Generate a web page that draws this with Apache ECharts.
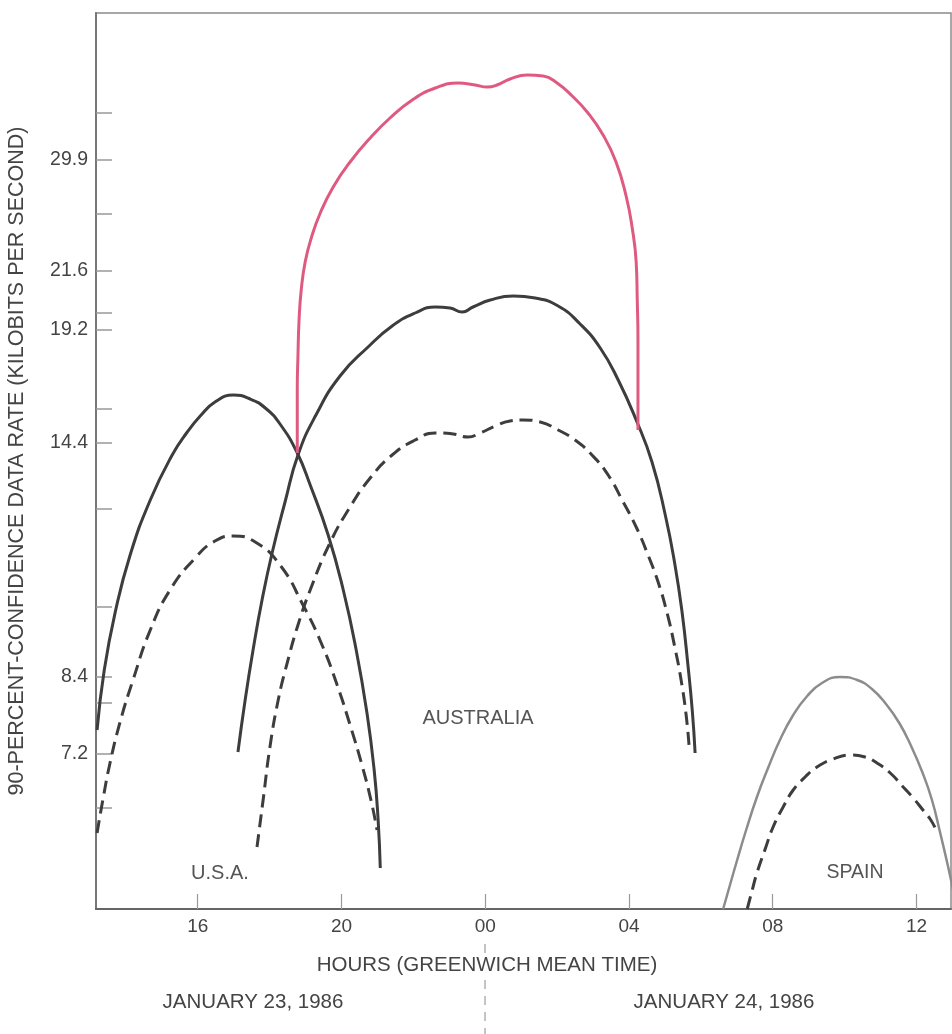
<!DOCTYPE html>
<html><head><meta charset="utf-8">
<script src="https://cdn.jsdelivr.net/npm/echarts@6/dist/echarts.min.js"></script>
<style>html,body{margin:0;padding:0;background:#fff}#c{width:952px;height:1034px}</style>
</head><body><div id="c"></div>
<script>
// X: hours GMT counted continuously from 00:00 January 23, 1986 (24 = 00 on Jan 24)
// Y: position on the chart's (non-linear) data-rate scale, in scale units
const usaSolidHours = [13.20, 13.40, 13.70, 14.12, 14.68, 15.29, 15.71, 16.07, 16.48, 16.99, 17.46, 17.88, 18.29, 18.77, 19.13, 19.63, 20.05, 20.41, 20.71, 20.91, 21.02, 21.08];
const usaSolidRate  = [179, 239, 296, 354, 409, 454, 477, 493, 507, 514, 510, 501, 485, 456, 424, 374, 319, 259, 196, 139, 89, 41];
const usaDashHours  = [13.20, 13.37, 13.56, 13.84, 14.20, 14.68, 15.23, 15.93, 16.48, 16.99, 17.60, 18.29, 18.93, 19.46, 19.88, 20.24, 20.57, 20.82, 20.99];
const usaDashRate   = [76, 111, 146, 187, 229, 279, 319, 351, 368, 373, 367, 344, 304, 264, 224, 184, 144, 109, 79];
const ausSolidHours = [17.12, 17.32, 17.54, 17.79, 18.07, 18.43, 18.79, 19.29, 19.96, 20.74, 21.41, 22.05, 22.61, 23.02, 23.36, 23.66, 24.14, 24.78, 25.39, 26.03, 26.64, 27.20, 27.70, 28.20, 28.64, 29.01, 29.28, 29.48, 29.64, 29.76, 29.84];
const ausSolidRate  = [157, 209, 259, 309, 356, 407, 454, 494, 533, 562, 583, 596, 602, 601, 597, 602, 609, 613, 611, 603, 585, 561, 529, 489, 447, 394, 344, 296, 244, 199, 156];
const ausDashHours  = [17.65, 17.82, 18.01, 18.24, 18.49, 18.79, 19.13, 19.68, 20.24, 20.80, 21.41, 22.05, 22.61, 23.11, 23.52, 23.86, 24.28, 24.69, 25.05, 25.53, 26.03, 26.50, 26.97, 27.42, 27.81, 28.20, 28.53, 28.81, 29.06, 29.28, 29.45, 29.59, 29.67];
const ausDashRate   = [62, 109, 162, 209, 246, 284, 319, 366, 402, 431, 454, 469, 476, 475, 472, 476, 483, 488, 489, 487, 479, 469, 454, 434, 409, 382, 354, 327, 296, 261, 229, 194, 164];
const ausBestHours  = [18.77, 18.77, 18.77, 18.79, 18.82, 18.88, 18.99, 19.16, 19.41, 19.77, 20.24, 20.80, 21.35, 21.97, 22.61, 23.25, 23.72, 24.05, 24.33, 24.69, 25.17, 25.61, 26.00, 26.42, 26.86, 27.28, 27.64, 27.92, 28.09, 28.20, 28.23, 28.25, 28.25, 28.25];
const ausBestRate   = [456, 489, 519, 554, 589, 619, 647, 671, 696, 722, 747, 771, 791, 809, 821, 826, 824, 822, 824, 830, 834, 833, 826, 813, 796, 774, 747, 713, 681, 647, 609, 569, 519, 479];
const spainSolidHours = [30.62, 30.81, 31.01, 31.26, 31.56, 31.87, 32.20, 32.57, 32.96, 33.37, 33.87, 34.35, 34.76, 35.15, 35.52, 35.85, 36.16, 36.43, 36.66, 36.85, 36.99, 37.13];
const spainSolidRate  = [0, 24, 49, 79, 112, 141, 169, 194, 213, 226, 232, 229, 220, 205, 186, 163, 137, 109, 76, 47, 24, 0];
const spainDashHours  = [31.29, 31.43, 31.56, 31.79, 32.01, 32.29, 32.57, 32.90, 33.23, 33.68, 34.15, 34.57, 34.90, 35.27, 35.63, 35.91, 36.18, 36.38, 36.52];
const spainDashRate   = [0, 19, 36, 60, 82, 102, 119, 132, 142, 150, 154, 152, 146, 136, 122, 111, 99, 90, 81];

const xTickHours = [16, 20, 24, 28, 32, 36];
const yTickAt    = [796, 749, 695, 638, 596, 579, 500, 466, 400, 302, 232, 206, 155, 101];
const yLabelAt   = [749, 638, 579, 466, 232, 155];
const yLabelText = ['29.9', '21.6', '19.2', '14.4', '8.4', '7.2'];

const FONT = '"Liberation Sans", Arial, Helvetica, sans-serif';
const zip = (a, b) => a.map((v, i) => [v, b[i]]);
const dark = '#3d3d3d';

function line(name, hx, ry, color, width, dashed) {
  return {
    name, type: 'line', data: zip(hx, ry), smooth: 0.5, showSymbol: false, symbol: 'none',
    clip: true, silent: true,
    lineStyle: { color, width, type: dashed ? [13, 7] : 'solid', cap: 'butt' }
  };
}

const chart = echarts.init(document.getElementById('c'), null, { renderer: 'canvas' });
chart.setOption({
  animation: false,
  backgroundColor: '#fff',
  grid: { left: 96, right: 1, top: 13, bottom: 125, outerBoundsMode: 'none', containLabel: false, show: true, borderColor: '#8a8a8a', borderWidth: 1.5, backgroundColor: 'transparent' },
  xAxis: {
    type: 'value', min: 13.17, max: 36.96,
    axisLine: { show: true, onZero: false, lineStyle: { color: '#666', width: 2 } },
    axisTick: { show: true, inside: true, length: 15, customValues: xTickHours, lineStyle: { color: '#999', width: 1.2 } },
    axisLabel: { customValues: xTickHours, formatter: v => String(v % 24).padStart(2, '0'), margin: 8, fontSize: 19, color: '#444', fontFamily: FONT },
    splitLine: { show: false }
  },
  yAxis: {
    type: 'value', min: 0, max: 896,
    axisLine: { show: true, onZero: false, lineStyle: { color: '#777', width: 2 } },
    axisTick: { show: true, inside: true, length: 16, customValues: yTickAt, lineStyle: { color: '#999', width: 1.5 } },
    axisLabel: { customValues: yLabelAt, formatter: v => yLabelText[yLabelAt.indexOf(v)] || '', margin: 8, fontSize: 19.5, color: '#444', fontFamily: FONT },
    splitLine: { show: false },
    name: '90-PERCENT-CONFIDENCE DATA RATE (KILOBITS PER SECOND)', nameLocation: 'middle', nameGap: 68,
    nameTextStyle: { fontSize: 21.5, color: '#444', fontFamily: FONT }
  },
  series: [
    line('USA', usaSolidHours, usaSolidRate, dark, 3, false),
    line('USA 90%', usaDashHours, usaDashRate, dark, 3, true),
    line('Australia', ausSolidHours, ausSolidRate, dark, 3, false),
    line('Australia 90%', ausDashHours, ausDashRate, dark, 3, true),
    line('Spain', spainSolidHours, spainSolidRate, '#8c8c8c', 2.5, false),
    line('Spain 90%', spainDashHours, spainDashRate, dark, 3, true),
    line('Australia best', ausBestHours, ausBestRate, '#df5a80', 3, false)
  ],
  graphic: [
    { type: 'text', style: { text: 'U.S.A.', x: 220, y: 873, align: 'center', verticalAlign: 'middle', fill: '#555', font: '20px ' + FONT } },
    { type: 'text', style: { text: 'AUSTRALIA', x: 478, y: 718, align: 'center', verticalAlign: 'middle', fill: '#555', font: '20px ' + FONT } },
    { type: 'text', style: { text: 'SPAIN', x: 855, y: 873, align: 'center', verticalAlign: 'middle', fill: '#555', font: '19.5px ' + FONT } },
    { type: 'text', style: { text: 'HOURS (GREENWICH MEAN TIME)', x: 487, y: 965, align: 'center', verticalAlign: 'middle', fill: '#444', font: '20.5px ' + FONT } },
    { type: 'text', style: { text: 'JANUARY 23, 1986', x: 253, y: 1002, align: 'center', verticalAlign: 'middle', fill: '#444', font: '20.5px ' + FONT } },
    { type: 'text', style: { text: 'JANUARY 24, 1986', x: 724, y: 1002, align: 'center', verticalAlign: 'middle', fill: '#444', font: '20.5px ' + FONT } },
    { type: 'line', shape: { x1: 485, y1: 944, x2: 485, y2: 953 }, style: { stroke: '#888', lineWidth: 1 } },
    { type: 'line', shape: { x1: 485, y1: 980, x2: 485, y2: 1034 }, style: { stroke: '#888', lineWidth: 1, lineDash: [9, 7] } }
  ]
});
</script></body></html>
